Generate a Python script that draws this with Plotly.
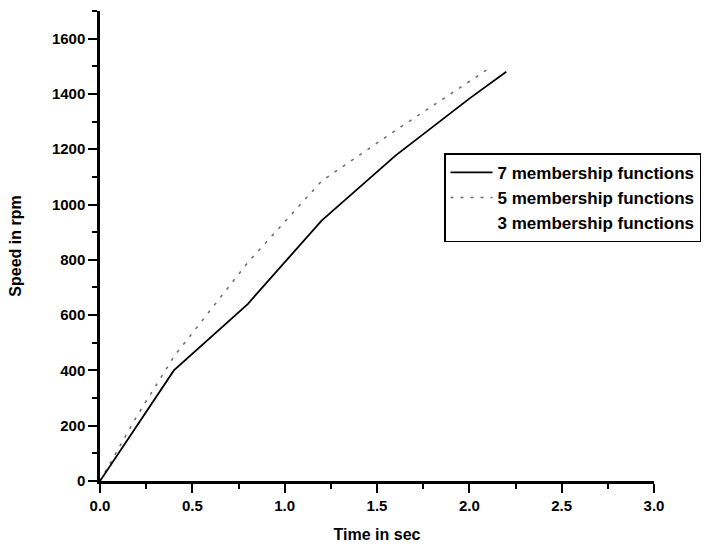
import plotly.graph_objects as go

# Speed response of the drive for fuzzy controllers with different rule sets
time_7mf = [0.0, 0.4, 0.8, 1.2, 1.6, 2.0, 2.2]
speed_7mf = [0, 400, 640, 942, 1177, 1383, 1480]

time_5mf = [0.0, 0.2, 0.4, 0.8, 1.2, 1.6, 2.0, 2.1]
speed_5mf = [0, 235, 450, 790, 1085, 1268, 1445, 1490]

time_3mf = [0.0, 0.4, 0.8, 1.2, 1.6, 2.0, 2.2]
speed_3mf = [0, 400, 640, 942, 1177, 1383, 1480]

x_ticks = [0.0, 0.5, 1.0, 1.5, 2.0, 2.5, 3.0]
x_tick_text = ["0.0", "0.5", "1.0", "1.5", "2.0", "2.5", "3.0"]
y_ticks = [0, 200, 400, 600, 800, 1000, 1200, 1400, 1600]

FONT = "Liberation Sans, Arial, sans-serif"

fig = go.Figure()

fig.add_trace(go.Scatter(
    x=time_3mf, y=speed_3mf, mode="lines",
    name="3 membership functions",
    line=dict(color="rgba(255,255,255,0)", width=1),
))
fig.add_trace(go.Scatter(
    x=time_5mf, y=speed_5mf, mode="lines",
    name="5 membership functions",
    line=dict(color="#6a6a6a", width=1.5, dash="3px,7px"),
))
fig.add_trace(go.Scatter(
    x=time_7mf, y=speed_7mf, mode="lines",
    name="7 membership functions",
    line=dict(color="black", width=1.8),
))

axis_common = dict(
    showgrid=False, zeroline=False, showline=True, automargin=False,
    linecolor="black", linewidth=2.5,
    ticks="outside", ticklen=9, tickwidth=2, tickcolor="black",
    tickfont=dict(family=FONT, size=15, color="black", weight="bold"),
)
title_font = dict(family=FONT, size=16, color="black", weight="bold")

fig.update_xaxes(
    range=[0, 3.0], tickvals=x_ticks, ticktext=x_tick_text,
    minor=dict(dtick=0.25, ticks="outside", ticklen=5, tickwidth=2, tickcolor="black"),
    title=dict(text="Time in sec", font=title_font, standoff=17),
    **axis_common,
)
fig.update_yaxes(
    range=[0, 1700], tickvals=y_ticks,
    minor=dict(dtick=100, ticks="outside", ticklen=5, tickwidth=2, tickcolor="black"),
    title=dict(text="Speed in rpm", font=title_font, standoff=27),
    **axis_common,
)

fig.update_layout(
    width=725, height=550,
    margin=dict(l=100, r=71, t=11, b=69),
    paper_bgcolor="white", plot_bgcolor="white",
    font=dict(family=FONT, size=15, color="black", weight="bold"),
    legend=dict(
        x=0.621, y=0.697, xanchor="left", yanchor="top",
        traceorder="reversed",
        bordercolor="black", borderwidth=1.5, bgcolor="white",
        font=dict(family=FONT, size=17, color="black", weight="bold"),
        itemwidth=42, tracegroupgap=0,
        entrywidth=240,
    ),
    showlegend=True,
)

fig.write_html("out.html")
